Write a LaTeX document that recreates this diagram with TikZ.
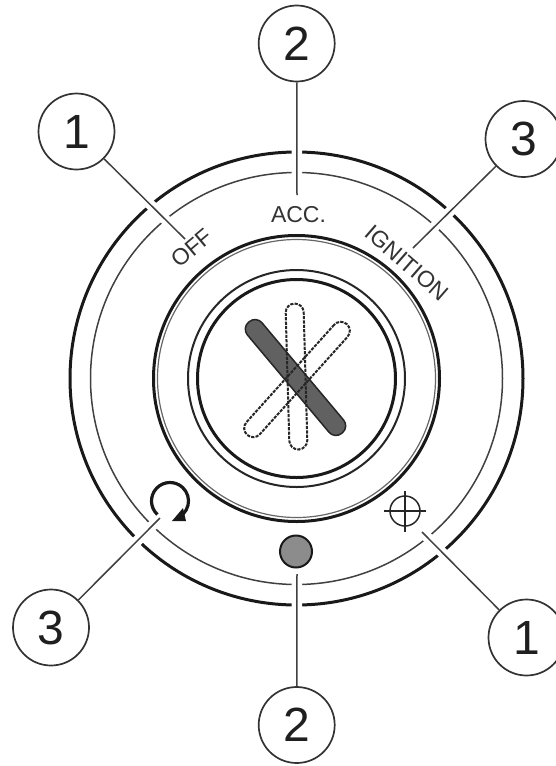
\documentclass[tikz,border=0pt]{standalone}
\usepackage{fontspec}
\setmainfont{Liberation Sans}
\usetikzlibrary{backgrounds}
\tikzset{
  x=1pt,y=-1pt,
  callout/.style={circle,draw=black!80,line width=1.7pt,minimum size=76pt,inner sep=0pt,font=\fontsize{48}{48}\selectfont,text=black!88},
  leader/.style={draw=black!75,line width=1.5pt},
  halo/.style={draw=white,line width=10.5pt},
  thickring/.style={draw=black!90,line width=3pt},
  thinring/.style={draw=black!75,line width=1.5pt},
  midring/.style={draw=black!85,line width=2pt},
  lab/.style={font=\fontsize{23}{23}\selectfont,text=black!80,inner sep=0pt},
  keyghost/.style={draw=black!85,line width=2pt,dash pattern=on 3.2pt off 1.2pt,rounded corners=9pt},
  keybar/.style={draw=black!85,fill=black!62,line width=1.5pt,rounded corners=9pt},
  symbol/.style={draw=black!85,line width=1.5pt},
}
\begin{document}
\begin{tikzpicture}
\useasboundingbox (0,0) rectangle (555,766);
\coordinate (c) at (296.5,378.5);
\coordinate (e1) at (185,239);
\coordinate (e2) at (297,195);
\coordinate (e3) at (413,248);
\coordinate (e4) at (160,518);
\coordinate (e5) at (297,574);
\coordinate (e6) at (422,532);
\node[callout] (n1) at (76.5,131.5) {1};
\node[callout] (n2) at (296.7,43.5) {2};
\node[callout] (n3) at (523.5,139) {3};
\node[callout] (n4) at (51,627.5) {3};
\node[callout] (n5) at (296.7,725) {2};
\node[callout] (n6) at (526.5,637.5) {1};
\begin{pgfonlayer}{background}
\draw[thickring] (c) circle (226.5);
\draw[thinring] (c) circle (206);
\draw[halo] (n1) -- (e1);
\draw[halo] (n2) -- (e2);
\draw[halo] (n3) -- (e3);
\draw[halo] (n4) -- (e4);
\draw[halo] (n5) -- (e5);
\draw[halo] (n6) -- (e6);
\end{pgfonlayer}
\draw[leader] (n1) -- (e1);
\draw[leader] (n2) -- (e2);
\draw[leader] (n3) -- (e3);
\draw[leader] (n4) -- (e4);
\draw[leader] (n5) -- (e5);
\draw[leader] (n6) -- (e6);
% hub
\draw[thickring] (c) circle (143);
\draw[draw=black!60,line width=1.2pt] (c) circle (139);
\draw[midring] (c) circle (108.5);
\draw[thickring] (c) circle (99);
% key slots
\path[keybar,shift={(295.5,377.5)},rotate=40] (-9.5,-72.5) rectangle (9.5,72.5);
\path[keyghost,shift={(296.5,376.5)},rotate=1.6] (-9,-73) rectangle (9,73);
\path[keyghost,shift={(297,379.5)},rotate=-42] (-9,-74.5) rectangle (9,74.5);
% labels
\node[lab] (off) at (192,248) [rotate=40] {OFF};
\node[lab] (acc) at (298.5,215) {ACC.};
\node[lab] (ign) at (407,263) [rotate=-41] {IGNITION};
% symbols
\node[circle,draw=black!90,fill=black!45,line width=2pt,minimum size=32pt,inner sep=0pt] (dot) at (296,551.5) {};
\node[circle,symbol,minimum size=30pt,inner sep=0pt] (cross) at (405,511) {};
\draw[symbol] (384,511) -- (426,511);
\draw[symbol] (405,491) -- (405,532);
\coordinate (rot) at (170,501);
\draw[black!90,line width=3.2pt] (rot) ++(133:18.5) arc[start angle=133,end angle=405,radius=18.5];
\fill[black!90] (172,521) -- (186,521) -- (183,508) -- cycle;
\end{tikzpicture}
\end{document}
